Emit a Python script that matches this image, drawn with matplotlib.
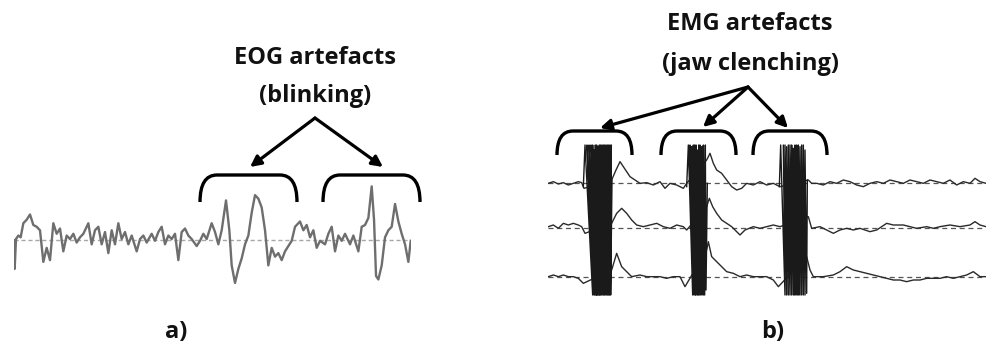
import matplotlib
matplotlib.use("Agg")
import matplotlib.pyplot as plt
import numpy as np
from matplotlib.path import Path
from matplotlib.patches import PathPatch, FancyArrowPatch

# ---------------- data ----------------
# EOG trace (panel a): time (ms) and amplitude (uV)
eog_t = [0, 2, 6, 13, 20, 28, 38, 48, 58, 68, 78, 88, 98, 108, 118, 128, 138, 148, 158, 168,
         178, 188, 198, 208, 223, 233, 243, 253, 263, 273, 283, 293, 303, 313, 323, 333, 343, 353,
         368, 378, 388, 398, 413, 423, 433, 443, 453, 463, 473, 483, 493, 503, 513, 523, 533, 548,
         558, 568, 578, 593, 603, 613, 623, 636, 646, 653, 663, 673, 683, 693, 703, 713, 723, 733,
         743, 753, 763, 773, 783, 793, 803, 813, 823, 833, 843, 858, 868, 878, 888, 898, 908, 918,
         933, 943, 953, 963, 973, 983, 993, 1008, 1018, 1033, 1043, 1053, 1063, 1073, 1080, 1086,
         1093, 1103, 1113, 1123, 1133, 1143, 1153, 1163, 1173, 1183, 1190]
eog_uv = [0, -82, 3, 13, 8, 48, 58, 73, 43, 38, 28, -62, -22, -57, 48, 18, 33, -32, 13, 3,
          18, -7, 8, 18, 48, -12, 28, 38, -12, 23, -37, 28, -12, 48, 3, 23, -12, 13,
          -32, 3, 13, -7, 18, -2, 23, 38, -12, 13, 3, 18, -57, 23, 33, 13, 3, -17,
          -2, 18, 3, 48, 23, -12, 28, 113, 28, -72, -122, -82, -52, -12, 13, 78, 128, 118,
          93, 28, -72, -22, -47, -37, -57, -32, -17, -2, 38, 53, 28, 43, 8, 28, -22, -2,
          -12, 18, 38, -32, 13, -2, 18, -12, 13, -32, 38, 43, 63, 153, 58, -102,
          -112, -72, 8, 28, 38, 103, 53, 18, -12, -62, -2]

# EMG traces (panel b): time (ms) and amplitude (uV) for three channels
emg1_t = [25, 40, 55, 70, 85, 100, 115, 125, 132, 215, 228, 240, 250, 260, 270, 285, 300, 320,
          340, 360, 375, 390, 410, 430, 440, 500, 510, 520, 530, 545, 560, 575, 590, 605, 620,
          640, 660, 680, 700, 720, 805, 815, 830, 850, 870, 890, 910, 930, 950, 970, 990, 1010,
          1030, 1050, 1070, 1090, 1110, 1130, 1150, 1170, 1190, 1210, 1230, 1250, 1270, 1290,
          1305, 1320, 1338]
emg1_uv = [0, 5, -2, 2, -5, 0, 5, 2, -15, 10, 40, 65, 50, 35, 20, 10, 0, 2,
           -5, 5, -15, 0, -5, -15, 0, 70, 90, 60, 40, 30, 10, -10, -20, -15, 0,
           -5, 5, -5, 0, -10, 10, 0, 0, -5, 5, 0, 10, 5, -5, -10, 0, 5,
           0, 10, 5, 0, 10, 5, 0, 10, 5, 0, 10, -5, 5, 0,
           15, 5, 0]
emg2_t = [25, 40, 55, 70, 85, 100, 115, 125, 135, 215, 230, 245, 260, 275, 290, 310, 330, 350,
          370, 390, 410, 430, 440, 500, 508, 518, 530, 545, 560, 575, 590, 600, 615, 640, 660,
          680, 700, 720, 805, 815, 840, 860, 880, 900, 920, 940, 960, 990, 1010, 1040, 1060,
          1090, 1110, 1130, 1160, 1180, 1200, 1230, 1260, 1290, 1305, 1320, 1338]
emg2_uv = [5, 10, 0, 15, 10, 15, 10, 5, -15, 15, 45, 60, 45, 25, 10, 5, 10, 15,
           5, 0, 10, 5, -5, 65, 90, 65, 45, 25, 15, 5, -10, -20, -5, 5, 0,
           5, 10, 5, 35, 0, 5, -5, -15, -5, 0, -5, 0, -10, -5, 15, 10,
           10, 5, 0, 5, 0, 5, 10, 5, 10, 20, 10, 5]
emg3_t = [25, 40, 55, 70, 85, 100, 115, 130, 215, 230, 245, 260, 275, 300, 320, 340, 360, 380,
          400, 420, 435, 500, 505, 515, 530, 545, 560, 580, 600, 620, 640, 660, 680, 700, 715,
          800, 810, 820, 850, 880, 900, 920, 940, 960, 980, 1000, 1020, 1040, 1060, 1080, 1100,
          1120, 1140, 1160, 1180, 1200, 1220, 1240, 1260, 1280, 1300, 1320, 1338]
emg3_uv = [0, 5, 0, 5, 0, 0, -5, -20, 20, 70, 30, 15, 0, 5, 0, 0, 0, -5,
           0, 0, -30, 80, 105, 60, 45, 30, 15, 10, 0, 5, 0, 0, 0, -10, -30,
           60, 20, 0, 0, 5, 15, 30, 20, 15, 10, 5, 0, -5, -10, -10, -15,
           -10, -10, -5, -5, -5, 0, -5, 0, 5, 15, 0, 0]

# saturated jaw-clenching bursts (amplitude relative to channel 1)
burst1_t = [130, 135, 158, 141, 162, 147, 165, 153, 168, 158, 170, 163, 172, 166, 175, 170, 178,
            174, 180, 178, 183, 182, 186, 186, 190, 190, 193, 194, 196, 198, 200, 202, 203, 206,
            206, 210, 209, 214, 212, 216]
burst1_uv = [-10, 115, -335, 115, -335, 115, -335, 115, -335, 115, -335, 100, -335, 115, -335,
             115, -335, 110, -335, 115, -335, 115, -335, 115, -335, 115, -335, 115, -335, 115,
             -335, 115, -335, 115, -335, 115, -335, 115, -335, 10]
burst2_t = [440, 445, 458, 450, 462, 455, 466, 460, 468, 464, 472, 468, 475, 472, 478, 476, 482,
            480, 486, 485, 490, 490, 494, 496, 498, 502]
burst2_uv = [-10, 115, -335, 115, -335, 110, -335, 115, -335, 115, -335, 115, -335, 100, -335,
             115, -335, 115, -335, 110, -335, 115, -335, 115, -320, 0]
burst3_t = [718, 722, 735, 730, 740, 735, 745, 740, 750, 745, 755, 750, 760, 755, 764, 760, 768,
            765, 772, 770, 776, 775, 780, 780, 785, 785, 790, 790, 795, 795, 800, 802]
burst3_uv = [-10, 115, -335, 115, -335, 115, -335, 110, -335, 115, -335, 115, -335, 115, -335,
             105, -335, 115, -335, 115, -335, 115, -335, 110, -335, 115, -335, 115, -335, 100,
             -330, 10]

channel_offsets = [0, 135, 280]

title_a = ["EOG artefacts", "(blinking)"]
title_b = ["EMG artefacts", "(jaw clenching)"]
panel_labels = ["a)", "b)"]

# ---------------- figure ----------------
W, H = 986, 347
fig = plt.figure(figsize=(W / 100, H / 100), dpi=100)

def px_axes(x0, y0, x1, y1):
    return fig.add_axes([x0 / W, 1 - y1 / H, (x1 - x0) / W, (y1 - y0) / H])

# panel a trace
axa = px_axes(14, 160, 410.7, 290)
axa.axhline(0, color="#a8a8a8", lw=1.0, ls=(0, (3, 2)), zorder=1)
axa.plot(eog_t, eog_uv, color="#6e6e6e", lw=1.7, zorder=2, solid_joinstyle="round")
axa.set_xlim(0, 1190)
axa.set_ylim(-142, 228)
axa.axis("off")

# panel b traces
axb = px_axes(548, 130, 986, 300)
axb.set_xlim(24, 1338)
axb.set_ylim(-510, 0)
chans = [(emg1_t, emg1_uv), (emg2_t, emg2_uv), (emg3_t, emg3_uv)]
for (t, v), off in zip(chans, channel_offsets):
    base = -160 - off
    axb.plot([24, 1338], [base, base], color="#555555", lw=0.9, ls=(0, (4, 3)), zorder=1)
    axb.plot(t, np.array(v) + base, color="#2a2a2a", lw=1.0, zorder=2)
for t, v in [(burst1_t, burst1_uv), (burst2_t, burst2_uv), (burst3_t, burst3_uv)]:
    axb.plot(t, np.array(v) - 160, color="#1a1a1a", lw=1.0, zorder=3)
axb.axis("off")

# overlay for annotations (pixel coordinates)
ov = fig.add_axes([0, 0, 1, 1], zorder=10)
ov.set_xlim(0, W)
ov.set_ylim(H, 0)
ov.axis("off")
ov.patch.set_alpha(0)

def bracket(x0, x1, yt, yb, r):
    verts = [(x0, yb), (x0, yt), (x0 + r, yt), (x1 - r, yt), (x1, yt), (x1, yb)]
    codes = [Path.MOVETO, Path.CURVE3, Path.CURVE3, Path.LINETO, Path.CURVE3, Path.CURVE3]
    ov.add_patch(PathPatch(Path(verts, codes), fill=False, lw=2.4, color="black",
                           capstyle="butt"))

for x0, x1 in [(200, 297), (323, 420)]:
    bracket(x0, x1, 175, 202, 17)
for x0, x1 in [(557, 632), (661, 736), (753, 827)]:
    bracket(x0, x1, 131, 155, 16)

def arrow(p0, p1):
    ov.add_patch(FancyArrowPatch(p0, p1, arrowstyle="-|>", mutation_scale=16,
                                 lw=2.3, color="black", shrinkA=0, shrinkB=0))

for tip in [(250, 167), (383, 167)]:
    arrow((315, 118), tip)
for tip in [(600, 128), (703, 127), (788, 128)]:
    arrow((748, 87), tip)

fkw = dict(family="Open Sans", fontweight="bold", fontsize=17, ha="center", va="center",
           color="#111111")
ov.text(315, 58, title_a[0], **fkw)
ov.text(315, 96, title_a[1], **fkw)
ov.text(750, 24, title_b[0], **fkw)
ov.text(750, 64, title_b[1], **fkw)
ov.text(176, 332, panel_labels[0], **fkw)
ov.text(773, 332, panel_labels[1], **fkw)

fig.savefig("out.png", dpi=100)
